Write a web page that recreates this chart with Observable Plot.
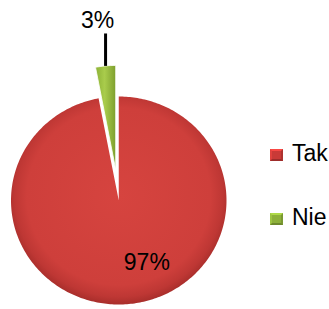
<!DOCTYPE html>
<html>
<head>
<meta charset="utf-8">
<script src="https://cdn.jsdelivr.net/npm/d3@7"></script>
<script src="https://cdn.jsdelivr.net/npm/@observablehq/plot@0.6"></script>
<style>
  html, body { margin: 0; padding: 0; background: #fff; }
  #wrap { position: relative; width: 329px; height: 309px; overflow: hidden; font-family: "Liberation Sans", Arial, sans-serif; }
  .leg { position: absolute; left: 270px; font-size: 23px; line-height: 23px; color: #000; white-space: nowrap; }
  .sw { position: absolute; left: 0; width: 13px; height: 12px; box-sizing: border-box; }
  .lt { position: absolute; left: 22px; top: 0; }
</style>
</head>
<body>
<div id="wrap"></div>
<script>
// ---- data ----
const categories = ["Tak", "Nie"];
const values = [97, 3];
const labels = ["97%", "3%"];

// ---- styles / layout constants ----
const fills = ["url(#gRed)", "url(#gGreen)"];
const swatch = ["#C93A37", "#8DB03A"];
const explode = [0, 0.3];

const rows = categories.map((c, i) => ({category: c, value: values[i], label: labels[i], i}));
const arcs = d3.pie().sort(null).value(d => d.value)(rows);

function pt(a, r, off, mid) {
  return [Math.sin(a) * r + Math.sin(mid) * off, Math.cos(a) * r + Math.cos(mid) * off];
}

const polys = arcs.map(a => {
  const mid = (a.startAngle + a.endAngle) / 2;
  const off = explode[a.data.i];
  const pts = [pt(0, 0, off, mid)];
  const n = Math.max(4, Math.ceil((a.endAngle - a.startAngle) / (Math.PI / 180)));
  for (let k = 0; k <= n; k++) {
    const ang = a.startAngle + (a.endAngle - a.startAngle) * k / n;
    pts.push(pt(ang, 1, off, mid));
  }
  pts.push(pt(0, 0, off, mid));
  return pts.map(([x, y]) => ({x, y, category: a.data.category}));
});

// label positions
const nieArc = arcs[1], takArc = arcs[0];
const nieMid = (nieArc.startAngle + nieArc.endAngle) / 2;
const nieOuter = pt(nieMid, 1, explode[1], nieMid);
const leader = [{x1: nieOuter[0], y1: nieOuter[1], x2: nieOuter[0], y2: 1.606}];
const takMid = (takArc.startAngle + takArc.endAngle) / 2;
const takLab = pt(takMid, 0.6, 0, takMid);

const defs = () => {
  const d = d3.create("svg:defs");
  const r = d.append("radialGradient").attr("id", "gRed").attr("cx", "50%").attr("cy", "48%").attr("r", "52%");
  r.append("stop").attr("offset", "0%").attr("stop-color", "#D6443F");
  r.append("stop").attr("offset", "82%").attr("stop-color", "#CE3F3B");
  r.append("stop").attr("offset", "93%").attr("stop-color", "#BE3734");
  r.append("stop").attr("offset", "100%").attr("stop-color", "#A82E2B");
  const g = d.append("linearGradient").attr("id", "gGreen").attr("x1", "0").attr("x2", "1").attr("y1", "0").attr("y2", "0");
  g.append("stop").attr("offset", "0%").attr("stop-color", "#8DB236");
  g.append("stop").attr("offset", "45%").attr("stop-color", "#A9CC4C");
  g.append("stop").attr("offset", "100%").attr("stop-color", "#7E9F2E");
  return d.node();
};

const chart = Plot.plot({
  width: 329,
  height: 309,
  margin: 0,
  x: {domain: [-1, 1], range: [10.5, 226], axis: null},
  y: {domain: [-1, 1], range: [304, 96], axis: null},
  style: {fontFamily: "Liberation Sans, Arial, sans-serif", background: "transparent", overflow: "visible"},
  marks: [
    defs,
    ...polys.map((p, i) => Plot.line(p, {x: "x", y: "y", fill: fills[i], stroke: i === 1 ? "#ffffff" : "none", strokeWidth: i === 1 ? 0.8 : 0, curve: "linear"})),
    Plot.link(leader, {x1: "x1", y1: "y1", x2: "x2", y2: "y2", stroke: "#000", strokeWidth: 3}),
    Plot.text([labels[1]], {x: () => leader[0].x2, y: () => leader[0].y2, text: d => d, dx: -8, dy: -5, lineAnchor: "bottom", fontSize: 23, fill: "#000"}),
    Plot.text([labels[0]], {x: () => takLab[0], y: () => takLab[1], text: d => d, dx: 22, dy: 0, fontSize: 23, fill: "#000"})
  ]
});

const wrap = document.getElementById("wrap");
wrap.appendChild(chart);

const legTops = [141.5, 205.5];
categories.forEach((c, i) => {
  const row = document.createElement("div");
  row.className = "leg";
  row.style.top = legTops[i] + "px";
  const sw = document.createElement("div");
  sw.className = "sw";
  sw.style.top = "7px";
  sw.style.background = swatch[i];
  sw.style.borderTop = "2px solid " + d3.color(swatch[i]).brighter(0.6);
  sw.style.borderLeft = "2px solid " + d3.color(swatch[i]).brighter(0.3);
  sw.style.borderBottom = "2px solid " + d3.color(swatch[i]).darker(0.7);
  sw.style.borderRight = "2px solid " + d3.color(swatch[i]).darker(0.4);
  const t = document.createElement("span");
  t.className = "lt";
  t.textContent = c;
  row.appendChild(sw);
  row.appendChild(t);
  wrap.appendChild(row);
});
</script>
</body>
</html>
